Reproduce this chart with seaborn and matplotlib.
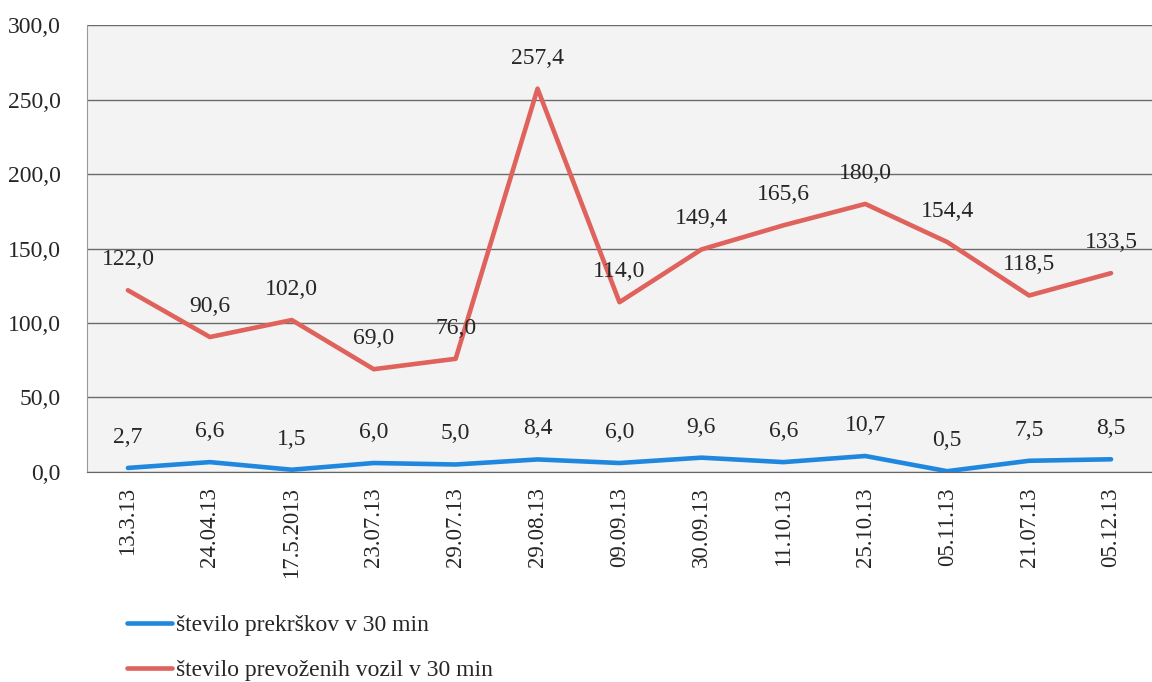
import pandas as pd
import numpy as np
import matplotlib
matplotlib.use("Agg")
import matplotlib.pyplot as plt
import seaborn as sns

# data
dates = ["13.3.13", "24.04.13", "17.5.2013", "23.07.13", "29.07.13", "29.08.13",
         "09.09.13", "30.09.13", "11.10.13", "25.10.13", "05.11.13", "21.07.13", "05.12.13"]
prekrski = [2.7, 6.6, 1.5, 6.0, 5.0, 8.4, 6.0, 9.6, 6.6, 10.7, 0.5, 7.5, 8.5]
vozila = [122.0, 90.6, 102.0, 69.0, 76.0, 257.4, 114.0, 149.4, 165.6, 180.0, 154.4, 118.5, 133.5]
y_ticks = [0, 50, 100, 150, 200, 250, 300]

name_blue = "število prekrškov v 30 min"
name_red = "število prevoženih vozil v 30 min"

df = pd.DataFrame({
    "pos": list(range(len(dates))) * 2,
    "value": prekrski + vozila,
    "serija": [name_blue] * len(dates) + [name_red] * len(dates),
})

sns.set_style("white")
plt.rcParams["font.family"] = ["Liberation Serif", "DejaVu Serif"]

fig = plt.figure(figsize=(11.52, 6.82), dpi=100)
ax = fig.add_axes([0.0755, 0.308, 0.9245, 0.655])
ax.set_facecolor("#f3f3f3")

colors = {name_blue: "#1f88de", name_red: "#e0625c"}
sns.lineplot(data=df, x="pos", y="value", hue="serija", palette=colors,
             linewidth=3.3, ax=ax, legend=False, zorder=3)

# data labels
for i, v in enumerate(vozila):
    ax.annotate(f"{v:.1f}".replace(".", ","), (i, v), xytext=(0, 22),
                textcoords="offset points", ha="center", va="center", fontsize=17)
for i, v in enumerate(prekrski):
    ax.annotate(f"{v:.1f}".replace(".", ","), (i, v), xytext=(0, 22),
                textcoords="offset points", ha="center", va="center", fontsize=17)

ax.set_ylim(0, 300)
ax.set_xlim(-0.5, 12.37)
ax.set_yticks(y_ticks)
ax.set_yticklabels([f"{t:.1f}".replace(".", ",") for t in y_ticks], fontsize=17)
ax.set_xticks(range(len(dates)))
ax.set_xticklabels(dates, rotation=90, fontsize=16.5)
ax.tick_params(axis="x", length=0, pad=11)
ax.set_xticks(np.arange(-0.5, len(dates), 1), minor=True)
ax.tick_params(axis="x", which="minor", length=6, color="#666666", direction="out")
ax.tick_params(axis="y", length=5, color="#666666", direction="out", pad=14)
ax.yaxis.grid(True, color="#6a6a6a", linewidth=1.0)
ax.set_axisbelow(True)
ax.set_xlabel("")
ax.set_ylabel("")

for side in ["top", "right"]:
    ax.spines[side].set_visible(False)
ax.spines["left"].set_color("#999999")
ax.spines["bottom"].set_color("#666666")

# legend below the chart
handles = [plt.Line2D([], [], color=colors[name_blue], linewidth=3.3),
           plt.Line2D([], [], color=colors[name_red], linewidth=3.3)]
fig.legend(handles, [name_blue, name_red], loc="upper left",
           bbox_to_anchor=(0.092, 0.13), frameon=False, fontsize=17,
           handlelength=1.9, handletextpad=0.15, labelspacing=1.0,
           bbox_transform=fig.transFigure)

plt.savefig("out.png", dpi=100)
